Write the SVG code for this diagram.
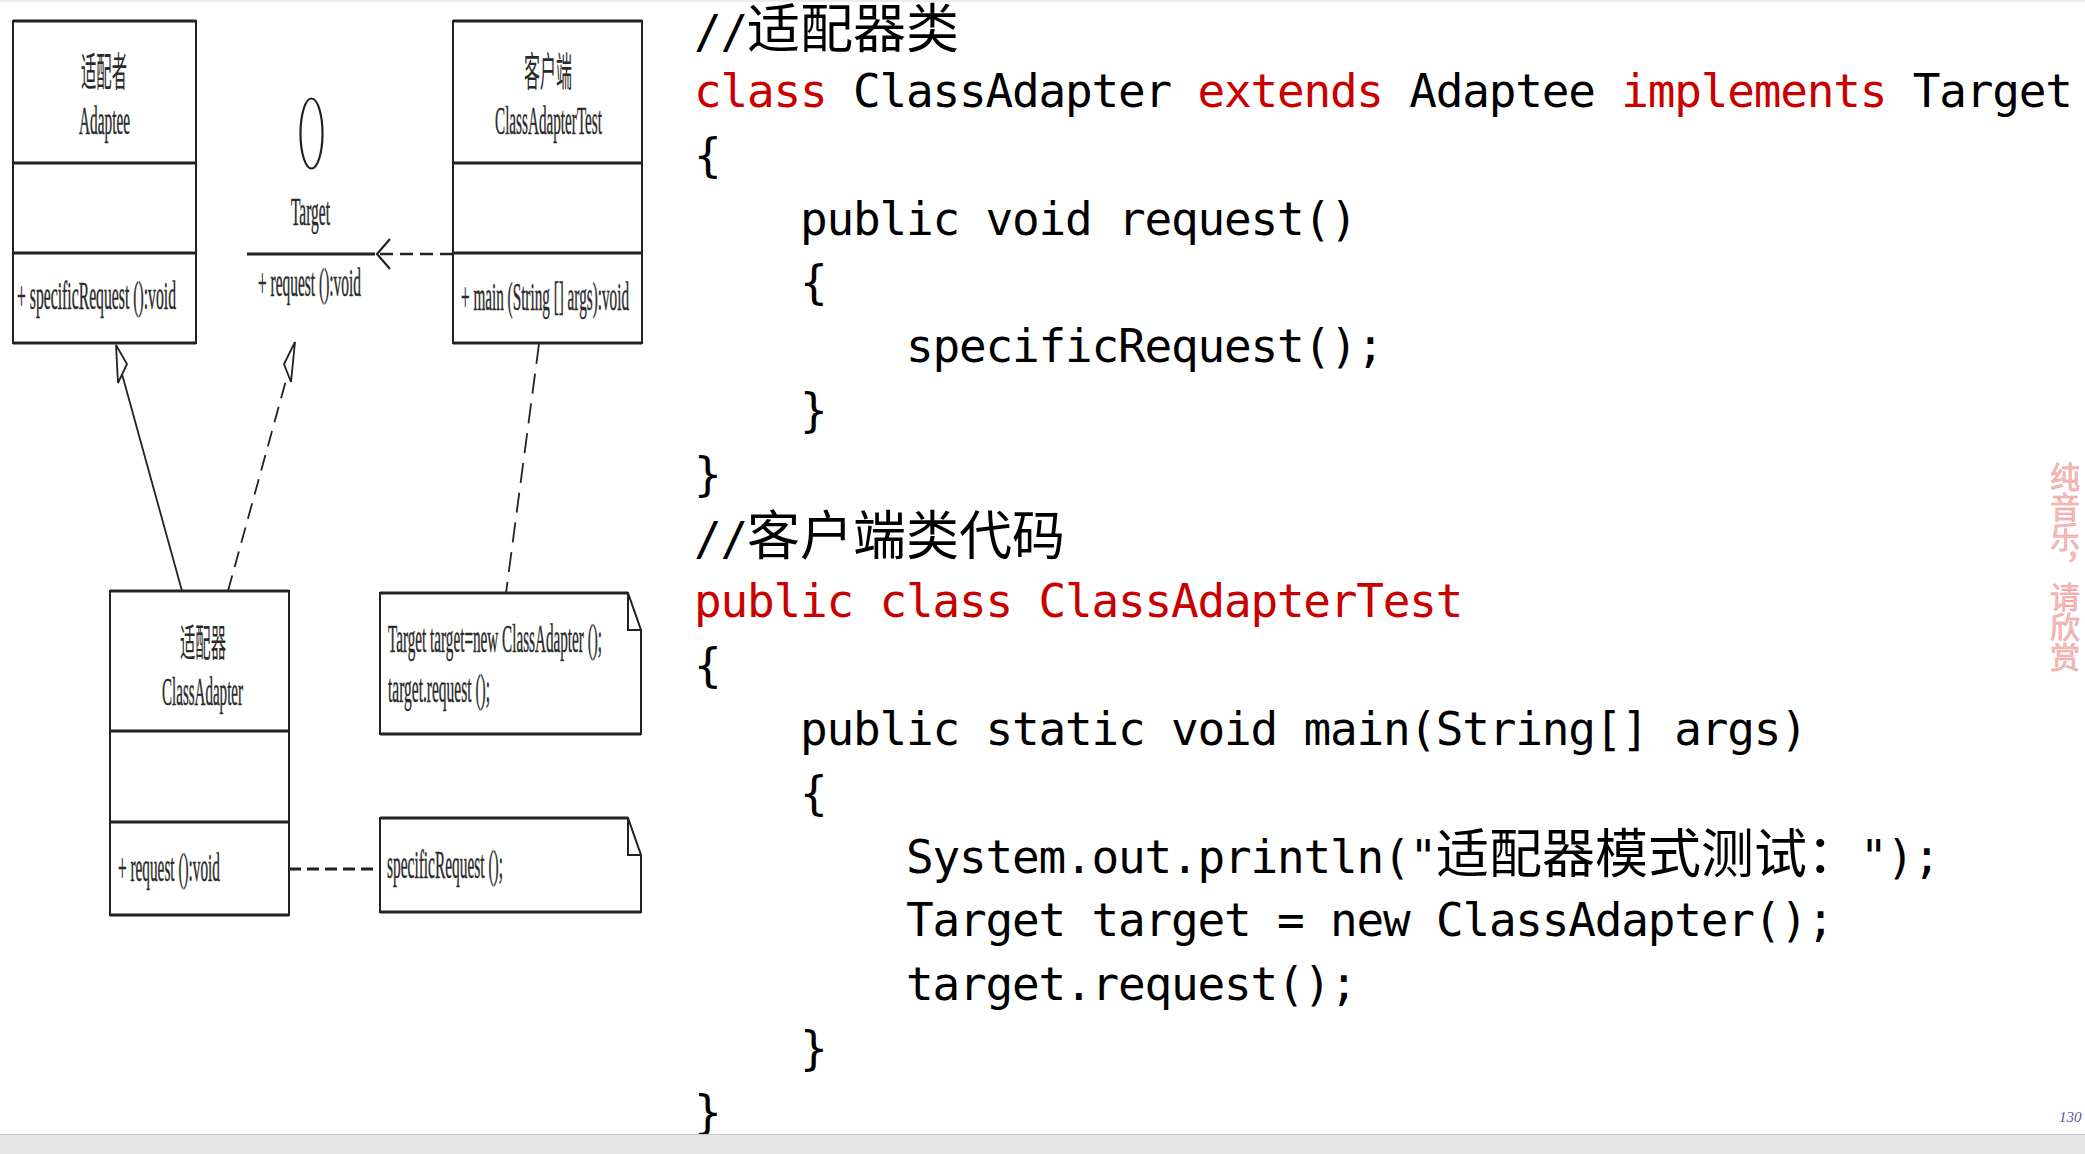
<svg xmlns="http://www.w3.org/2000/svg" width="2085" height="1154" viewBox="0 0 2085 1154">
<style>
.box{fill:#fff;stroke:#222;stroke-width:2}
.thick{stroke:#222;stroke-width:3.2}
.uml{font-family:"Liberation Serif","Noto Sans CJK SC",serif;fill:#2a2a2a;stroke:#2a2a2a;stroke-width:0.5}
.umlcjk{font-family:"Noto Sans CJK SC",sans-serif;fill:#2a2a2a}
.code{font-family:"DejaVu Sans Mono","Noto Sans CJK SC",monospace;font-size:46px;letter-spacing:-1.2px;fill:#000}
.cjk{font-family:"Noto Sans CJK SC",sans-serif;font-size:53px;letter-spacing:0}
.kw{fill:#c80000}
.line{stroke:#222;fill:none}
.head{fill:#fff;stroke:#222;stroke-width:1.8;stroke-linejoin:miter}
</style>
<rect x="0" y="0" width="2085" height="1154" fill="#fff"/>
<rect x="0" y="0" width="2085" height="2" fill="#ececec"/>

<g id="node-adaptee">
<rect class="box" x="13" y="21" width="183" height="322"/>
<line class="thick" x1="13" y1="21" x2="196" y2="21"/>
<line class="thick" x1="13" y1="163" x2="196" y2="163"/>
<line class="thick" x1="13" y1="253" x2="196" y2="253"/>
<line class="thick" x1="13" y1="343" x2="196" y2="343"/>
<text class="umlcjk" x="81" y="86" font-size="40" textLength="46" lengthAdjust="spacingAndGlyphs">适配者</text>
<text class="uml" x="79" y="134" font-size="40" textLength="51" lengthAdjust="spacingAndGlyphs">Adaptee</text>
<text class="uml" x="17" y="309" font-size="39" textLength="159" lengthAdjust="spacingAndGlyphs">+ specificRequest ():void</text>
</g>

<g id="node-target">
<ellipse cx="311.5" cy="133.5" rx="11" ry="35" fill="#fff" stroke="#222" stroke-width="2.2"/>
<text class="uml" x="291" y="225" font-size="40" textLength="39" lengthAdjust="spacingAndGlyphs">Target</text>
<line class="thick" x1="247" y1="254" x2="375" y2="254"/>
<text class="uml" x="258" y="296" font-size="39" textLength="103" lengthAdjust="spacingAndGlyphs">+ request ():void</text>
</g>

<g id="node-classadaptertest">
<rect class="box" x="453" y="21" width="189" height="322"/>
<line class="thick" x1="453" y1="21" x2="642" y2="21"/>
<line class="thick" x1="453" y1="163" x2="642" y2="163"/>
<line class="thick" x1="453" y1="253" x2="642" y2="253"/>
<line class="thick" x1="453" y1="343" x2="642" y2="343"/>
<text class="umlcjk" x="524" y="86" font-size="40" textLength="48" lengthAdjust="spacingAndGlyphs">客户端</text>
<text class="uml" x="495" y="134" font-size="40" textLength="107" lengthAdjust="spacingAndGlyphs">ClassAdapterTest</text>
<text class="uml" x="461" y="310" font-size="39" textLength="168" lengthAdjust="spacingAndGlyphs">+ main (String [] args):void</text>
</g>

<g id="node-classadapter">
<rect class="box" x="110" y="591" width="179" height="324"/>
<line class="thick" x1="110" y1="591" x2="289" y2="591"/>
<line class="thick" x1="110" y1="731" x2="289" y2="731"/>
<line class="thick" x1="110" y1="822" x2="289" y2="822"/>
<line class="thick" x1="110" y1="915" x2="289" y2="915"/>
<text class="umlcjk" x="180" y="656" font-size="38" textLength="46" lengthAdjust="spacingAndGlyphs">适配器</text>
<text class="uml" x="162" y="705" font-size="40" textLength="81" lengthAdjust="spacingAndGlyphs">ClassAdapter</text>
<text class="uml" x="118" y="881" font-size="39" textLength="102" lengthAdjust="spacingAndGlyphs">+ request ():void</text>
</g>

<g id="note-client">
<polygon points="380,593 628,593 641,630 641,734 380,734" fill="#fff" stroke="#222" stroke-width="2"/>
<line class="thick" x1="380" y1="593" x2="628" y2="593"/>
<line class="thick" x1="380" y1="734" x2="641" y2="734"/>
<polyline points="628,593 628,630 641,630" fill="none" stroke="#222" stroke-width="2"/>
<text class="uml" x="388" y="652" font-size="40" textLength="214" lengthAdjust="spacingAndGlyphs">Target target=new ClassAdapter ();</text>
<text class="uml" x="388" y="702" font-size="40" textLength="102" lengthAdjust="spacingAndGlyphs">target.request ();</text>
</g>

<g id="note-adapter">
<polygon points="380,818 628,818 641,855 641,912 380,912" fill="#fff" stroke="#222" stroke-width="2"/>
<line class="thick" x1="380" y1="818" x2="628" y2="818"/>
<line class="thick" x1="380" y1="912" x2="641" y2="912"/>
<polyline points="628,818 628,855 641,855" fill="none" stroke="#222" stroke-width="2"/>
<text class="uml" x="387" y="878" font-size="40" textLength="116" lengthAdjust="spacingAndGlyphs">specificRequest ();</text>
</g>

<g id="connectors">
<line class="line" x1="182" y1="591" x2="122" y2="374" stroke-width="1.8"/>
<polygon class="head" points="116,345 127,364 118,383"/>
<line class="line" x1="228" y1="591" x2="288" y2="373" stroke-width="1.8" stroke-dasharray="16 9"/>
<polygon class="head" points="295,342 284,364 291,382"/>
<line class="line" x1="453" y1="254" x2="378" y2="254" stroke-width="2.6" stroke-dasharray="13 7"/>
<polyline class="line" points="390,239 377,254 390,269" stroke-width="2.2"/>
<line class="line" x1="539" y1="344" x2="506" y2="593" stroke-width="1.8" stroke-dasharray="20 10"/>
<line class="line" x1="289" y1="869" x2="380" y2="869" stroke-width="2.8" stroke-dasharray="12 6"/>
</g>

<g id="code">
<text class="code" x="694" y="48">//<tspan class="cjk">适配器类</tspan></text>
<text class="code" x="694" y="107"><tspan class="kw">class</tspan> ClassAdapter <tspan class="kw">extends</tspan> Adaptee <tspan class="kw">implements</tspan> Target</text>
<text class="code" x="694" y="171">{</text>
<text class="code" x="800" y="235">public void request()</text>
<text class="code" x="800" y="298">{</text>
<text class="code" x="906" y="362">specificRequest();</text>
<text class="code" x="800" y="426">}</text>
<text class="code" x="694" y="490">}</text>
<text class="code" x="694" y="555">//<tspan class="cjk">客户端类代码</tspan></text>
<text class="code kw" x="694" y="617">public class ClassAdapterTest</text>
<text class="code" x="694" y="681">{</text>
<text class="code" x="800" y="745">public static void main(String[] args)</text>
<text class="code" x="800" y="809">{</text>
<text class="code" x="906" y="873">System.out.println("<tspan class="cjk">适配器模式测试：</tspan>");</text>
<text class="code" x="906" y="936">Target target = new ClassAdapter();</text>
<text class="code" x="906" y="1000">target.request();</text>
<text class="code" x="800" y="1064">}</text>
<text class="code" x="694" y="1128">}</text>
</g>

<g id="watermark">
<text x="2065" y="462" style="writing-mode:vertical-rl" font-family="Noto Sans CJK SC, sans-serif" font-size="30" fill="#f7bcbc" stroke="#ec9c9c" stroke-width="0.6">纯音乐，请欣赏</text>
</g>

<g id="footer">
<rect x="0" y="1134" width="2085" height="20" fill="#e4e4e4"/>
<line x1="0" y1="1134.5" x2="2085" y2="1134.5" stroke="#c8c8c8" stroke-width="1"/>
<text x="2059" y="1122" font-family="Liberation Serif, serif" font-style="italic" font-size="15" fill="#5a5a9a">130</text>
</g>
</svg>
